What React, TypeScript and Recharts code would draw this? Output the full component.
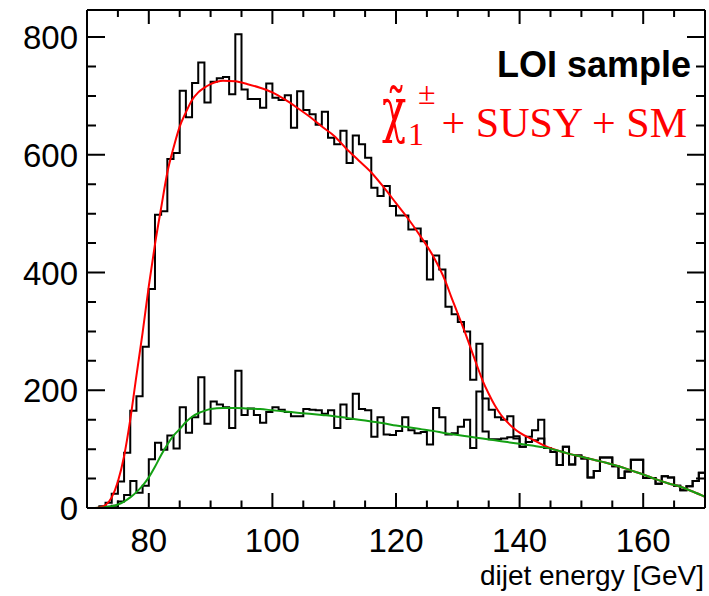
import React from 'react';
import { ComposedChart, Line, XAxis, YAxis, ReferenceLine } from 'recharts';

// lower bin edges (1 GeV bins) plus the upper edge of the last bin
const binEdges = [
  70, 71, 72, 73, 74, 75, 76, 77, 78, 79,
  80, 81, 82, 83, 84, 85, 86, 87, 88, 89,
  90, 91, 92, 93, 94, 95, 96, 97, 98, 99,
  100, 101, 102, 103, 104, 105, 106, 107, 108, 109,
  110, 111, 112, 113, 114, 115, 116, 117, 118, 119,
  120, 121, 122, 123, 124, 125, 126, 127, 128, 129,
  130, 131, 132, 133, 134, 135, 136, 137, 138, 139,
  140, 141, 142, 143, 144, 145, 146, 147, 148, 149,
  150, 151, 152, 153, 154, 155, 156, 157, 158, 159,
  160, 161, 162, 163, 164, 165, 166, 167, 168, 169,
  170,
];

// chargino + SUSY + SM sample
const totalCounts = [
  0, 0, 3, 9, 24, 45, 94, 165, 190, 274,
  372, 498, 504, 593, 603, 709, 664, 722, 757, 689,
  724, 730, 732, 703, 805, 711, 695, 695, 680, 721,
  697, 693, 701, 646, 708, 676, 669, 651, 673, 629,
  618, 641, 586, 633, 618, 595, 544, 530, 547, 513,
  497, 497, 473, 475, 453, 388, 429, 405, 342, 329,
  316, 300, 218, 279, 186, 167, 154, 150, 156, 122,
  104, 121, 132, 150, 102, 95, 73, 104, 74, 89,
  84, 52, 63, 86, 86, 71, 51, 62, 82, 82,
  51, 51, 41, 54, 52, 38, 30, 37, 46, 60,
];

// background only
const bkgCounts = [
  0, 0, 1, 2, 4, 11, 22, 46, 26, 38,
  83, 111, 99, 123, 101, 171, 128, 154, 222, 143,
  181, 176, 171, 136, 233, 158, 169, 158, 145, 163,
  171, 167, 163, 156, 156, 168, 167, 166, 160, 166,
  136, 176, 151, 194, 168, 166, 121, 154, 125, 124,
  131, 154, 132, 127, 129, 108, 170, 154, 125, 127,
  138, 150, 102, 198, 130, 117, 117, 118, 120, 118,
  104, 112, 115, 118, 102, 95, 73, 104, 74, 89,
  84, 52, 63, 86, 86, 71, 51, 62, 82, 82,
  51, 51, 41, 54, 52, 38, 30, 37, 46, 60,
];

// fitted curves
const totalFitX = [
  70, 71, 72, 73, 74, 75, 76, 77, 78, 79, 80, 81, 82, 83, 84, 85, 86, 87, 88, 89,
  90, 91, 92, 94, 96, 98, 100, 102, 104, 106, 108, 110, 112, 114, 116, 118, 120,
  122, 124, 126, 128, 129, 130, 131, 132, 133, 134, 135, 136, 137, 138, 139, 140,
  142, 144, 146, 148, 150, 152, 154, 156, 158, 160, 162, 164, 166, 168, 170,
];
const totalFitY = [
  0, 0, 1, 5, 18, 45, 88, 150, 225, 298, 377, 448, 510, 570, 612, 648, 672, 693, 706, 714,
  720, 724, 726, 725, 720, 714, 706, 694, 680, 665, 648, 632, 610, 590, 570, 545, 518,
  491, 461, 428, 385, 357, 330, 303, 274, 245, 217, 194, 174, 158, 146, 136, 128,
  117, 106, 98, 92, 87, 82, 77, 71, 64, 57, 49, 42, 36, 28, 19,
];

const bkgFitX = [
  70, 72, 73, 74, 75, 76, 77, 78, 79, 80, 81, 82, 83, 84, 85, 86, 87, 88, 89, 90,
  92, 94, 96, 98, 100, 102, 104, 106, 108, 110, 112, 114, 116, 118, 120, 122, 124,
  126, 128, 130, 132, 134, 136, 138, 140, 142, 144, 146, 148, 150, 152, 154, 156,
  158, 160, 162, 164, 166, 168, 170,
];
const bkgFitY = [
  0, 0.5, 1.5, 3, 6, 11, 18, 27, 38, 52, 70, 90, 108, 123, 134, 146, 155, 161, 165, 168,
  170, 170, 169, 168, 166, 164, 162, 160, 158, 156, 153, 150, 147, 144, 140, 137, 134,
  131, 127, 124, 121, 118, 115, 112, 109, 106, 103, 98, 92, 87, 82, 77, 71,
  64, 57, 49, 42, 36, 28, 19,
];

const xTicks = [75, 80, 85, 90, 95, 100, 105, 110, 115, 120, 125, 130, 135, 140, 145, 150, 155, 160, 165];
const yTicks = [50, 100, 150, 200, 250, 300, 350, 400, 450, 500, 550, 600, 650, 700, 750, 800];
const xLabelled = [80, 100, 120, 140, 160];
const yLabelled = [0, 200, 400, 600, 800];

const histRows = (counts: number[]) =>
  binEdges.map((x, i) => ({ x, v: i < counts.length ? counts[i] : counts[counts.length - 1] }));
const curveRows = (xs: number[], ys: number[]) => xs.map((x, i) => ({ x, v: ys[i] }));

const SANS = '"Liberation Sans", Arial, sans-serif';
const SERIF = '"Liberation Serif", "Times New Roman", serif';
const frame = { stroke: '#000', strokeWidth: 2 };

const XLabel = (props: any) => (
  <text x={props.x} y={props.y + 44} textAnchor="middle" fontSize={33} fontFamily={SANS} fill="#000">
    {props.payload.value}
  </text>
);

const YLabel = (props: any) => (
  <text x={props.x - 9} y={props.y + 12} textAnchor="end" fontSize={33} fontFamily={SANS} fill="#000">
    {props.payload.value}
  </text>
);

// inward ROOT-style ticks: the reference line spans the frame, only its two ends are drawn
const yTickShape = (major: boolean) => (p: any) => {
  const len = major ? 18 : 9;
  const left = Math.min(p.x1, p.x2);
  const right = Math.max(p.x1, p.x2);
  return (
    <path d={`M${left},${p.y1}H${left + len}M${right},${p.y1}H${right - len}`}
      stroke="#000" strokeWidth={2} fill="none" />
  );
};

const xTickShape = (major: boolean) => (p: any) => {
  const lo = Math.max(p.y1, p.y2);
  const hi = Math.min(p.y1, p.y2);
  return (
    <path d={`M${p.x1},${lo}V${lo - (major ? 15 : 7.5)}M${p.x1},${hi}V${hi + (major ? 14 : 7)}`}
      stroke="#000" strokeWidth={2} fill="none" />
  );
};

export default function App() {
  return (
    <div style={{ position: 'absolute', left: 0, top: 0, width: 709, height: 596, background: '#fff' }}>
      <ComposedChart width={709} height={596} margin={{ top: 9, right: 3, bottom: 0, left: 0 }}>
        <XAxis xAxisId="x" type="number" dataKey="x" domain={[70, 170]} ticks={xLabelled}
          height={88} tickSize={0} tickMargin={0} tick={<XLabel />} tickLine={false} axisLine={frame}
          interval={0} allowDataOverflow />
        <XAxis xAxisId="xtop" orientation="top" type="number" dataKey="x" domain={[70, 170]} ticks={xLabelled}
          height={1} tick={false} tickLine={false} axisLine={frame} allowDataOverflow />
        <YAxis yAxisId="y" type="number" domain={[0, 846]} ticks={yLabelled}
          width={87} tickSize={0} tickMargin={0} tick={<YLabel />} tickLine={false} axisLine={frame}
          interval={0} allowDataOverflow />
        <YAxis yAxisId="yright" orientation="right" type="number" domain={[0, 846]} ticks={yLabelled}
          width={1} tick={false} tickLine={false} axisLine={frame} allowDataOverflow />

        {yTicks.map((v) => (
          <ReferenceLine key={`y${v}`} xAxisId="x" yAxisId="y" y={v} stroke="#000" ifOverflow="visible"
            shape={yTickShape(yLabelled.includes(v))} />
        ))}
        {xTicks.map((v) => (
          <ReferenceLine key={`x${v}`} xAxisId="x" yAxisId="y" x={v} stroke="#000" ifOverflow="visible"
            shape={xTickShape(xLabelled.includes(v))} />
        ))}

        <Line xAxisId="x" yAxisId="y" data={histRows(totalCounts)} dataKey="v" type="stepAfter"
          stroke="#000" strokeWidth={2} dot={false} activeDot={false} isAnimationActive={false} />
        <Line xAxisId="x" yAxisId="y" data={histRows(bkgCounts)} dataKey="v" type="stepAfter"
          stroke="#000" strokeWidth={2} dot={false} activeDot={false} isAnimationActive={false} />
        <Line xAxisId="x" yAxisId="y" data={curveRows(totalFitX, totalFitY)} dataKey="v" type="monotone"
          stroke="#ff0000" strokeWidth={2} dot={false} activeDot={false} isAnimationActive={false} />
        <Line xAxisId="x" yAxisId="y" data={curveRows(bkgFitX, bkgFitY)} dataKey="v" type="monotone"
          stroke="#13a013" strokeWidth={2} dot={false} activeDot={false} isAnimationActive={false} />
      </ComposedChart>

      <svg width={709} height={596} style={{ position: 'absolute', left: 0, top: 0, pointerEvents: 'none' }}>
        <text x={691} y={77} textAnchor="end" fontSize={36} fontWeight="bold" fontFamily={SANS} fill="#000">
          LOI sample
        </text>
        <g fill="#ff0000">
          <text transform="translate(382,131) scale(1,1.5)" fontSize={40} fontFamily='"DejaVu Serif", serif'>
            χ̃
          </text>
          <text x={408} y={145} fontSize={32} fontFamily={SERIF}>1</text>
          <text x={418} y={104} fontSize={32} fontFamily={SERIF}>±</text>
          <text x={687} y={137} textAnchor="end" fontSize={42} fontFamily={SERIF}>+ SUSY + SM</text>
        </g>
        <text x={704} y={585} textAnchor="end" fontSize={28} fontFamily={SANS} fill="#000">
          dijet energy [GeV]
        </text>
      </svg>
    </div>
  );
}
